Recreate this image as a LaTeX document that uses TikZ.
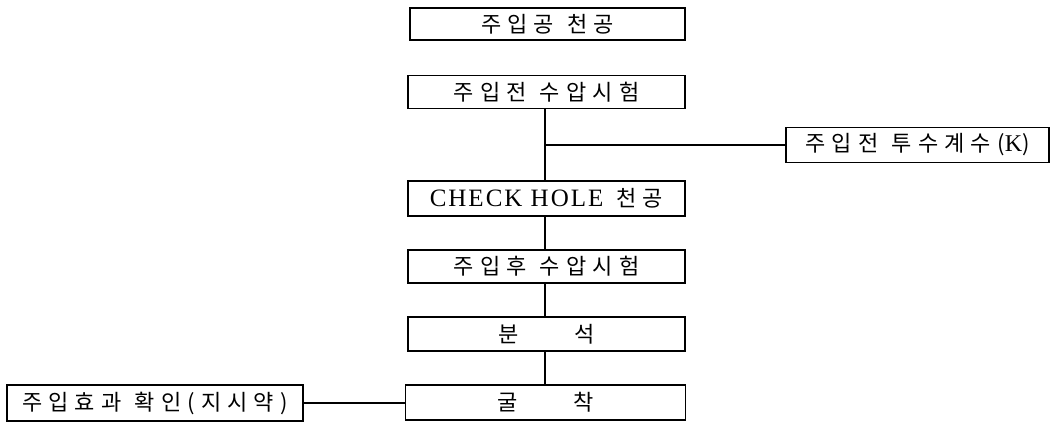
\documentclass[tikz,border=0pt]{standalone}
\usepackage{fontspec}
\setmainfont{Liberation Serif}
\newfontfamily\kr[LetterSpace=28]{Noto Sans CJK KR}
\newfontfamily\lat[LetterSpace=8]{Liberation Serif}
\newcommand{\ws}{\hspace{0.6em}}
\begin{document}
\begin{tikzpicture}[x=1pt,y=-1pt,
  box/.style={draw,line width=1.3pt,inner sep=0pt,font=\kr\fontsize{22}{24}\selectfont},
  con/.style={line width=1.3pt}]
\useasboundingbox (0,0) rectangle (1055,428);
\node[box,minimum width=275,minimum height=32] (b1) at (547.5,24) {주입공\ws 천공};
\node[box,minimum width=277,minimum height=33] (b2) at (546.5,92) {주입전\ws 수압시험};
\node[box,minimum width=263,minimum height=35] (b3) at (917.5,145) {주입전\ws 투수계수({\lat\fontsize{24}{24}\selectfont K})};
\node[box,minimum width=277,minimum height=35] (b4) at (546.5,198.5) {{\lat\fontsize{25}{26}\selectfont CHECK HOLE}\ws 천공};
\node[box,minimum width=277,minimum height=33] (b5) at (546.5,266.5) {주입후\ws 수압시험};
\node[box,minimum width=277,minimum height=34] (b6) at (546.5,334) {분\hspace{2.5em}석};
\node[box,minimum width=280,minimum height=35] (b7) at (545.5,402.5) {굴\hspace{2.5em}착};
\node[box,minimum width=296,minimum height=36] (b8) at (155,403) {주입효과\ws 확인(지시약)};
\coordinate (j) at (545,145);
\draw[con] (b2.south -| j) -- (b4.north -| j);
\draw[con] (j) -- (b3.west);
\draw[con] (b4.south -| j) -- (b5.north -| j);
\draw[con] (b5.south -| j) -- (b6.north -| j);
\draw[con] (b6.south -| j) -- (b7.north -| j);
\draw[con] (b8.east) -- (b7.west |- b8.east);
\end{tikzpicture}
\end{document}
